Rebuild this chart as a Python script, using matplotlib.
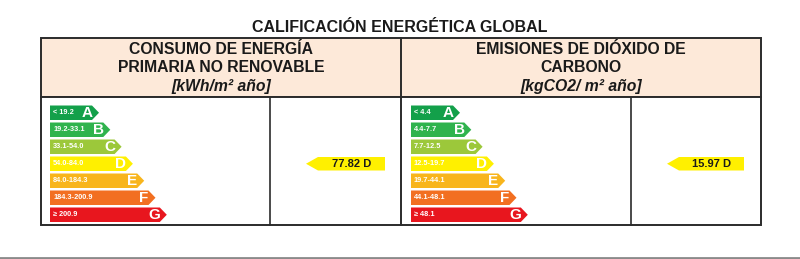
import matplotlib
matplotlib.use("Agg")
import matplotlib.pyplot as plt
from matplotlib.patches import Polygon, Rectangle

plt.rcParams['font.family'] = ['Liberation Sans', 'DejaVu Sans']

# data
title = "CALIFICACIÓN ENERGÉTICA GLOBAL"
classes = ['A', 'B', 'C', 'D', 'E', 'F', 'G']
class_colors = ['#13a04a', '#2fb34d', '#9cc83a', '#fff000', '#f8b51c', '#f26f21', '#e8161e']
energy_ranges = ['< 19.2', '19.2-33.1', '33.1-54.0', '54.0-84.0', '84.0-184.3', '184.3-200.9', '≥ 200.9']
co2_ranges = ['< 4.4', '4.4-7.7', '7.7-12.5', '12.5-19.7', '19.7-44.1', '44.1-48.1', '≥ 48.1']
energy_header = ["CONSUMO DE ENERGÍA", "PRIMARIA NO RENOVABLE", "[kWh/m² año]"]
co2_header = ["EMISIONES DE DIÓXIDO DE", "CARBONO", "[kgCO2/ m² año]"]
energy_value, energy_class = 77.82, 'D'
co2_value, co2_class = 15.97, 'D'

fig = plt.figure(figsize=(8, 2.59), dpi=100)
ax = fig.add_axes([0, 0, 1, 1])
ax.set_xlim(0, 800)
ax.set_ylim(259, 0)
ax.axis('off')

edge = '#2b2b2b'
# header and body boxes
ax.add_patch(Rectangle((41, 38), 720, 59, facecolor='#fde9d9', edgecolor=edge, lw=1.4))
ax.add_patch(Rectangle((41, 97), 720, 128, facecolor='white', edgecolor=edge, lw=1.4))
ax.plot([401, 401], [38, 225], color=edge, lw=1.4)
ax.plot([270, 270], [97, 225], color=edge, lw=1.2)
ax.plot([631, 631], [97, 225], color=edge, lw=1.2)
ax.plot([0, 800], [257.5, 257.5], color='#8a8a8a', lw=2)

ax.text(400, 27, title, ha='center', va='center', fontsize=11.5, fontweight='bold', color='#1a1a1a')


def header(cx, lines):
    ax.text(cx, 49, lines[0], ha='center', va='center', fontsize=11.3, fontweight='bold', color='#1a1a1a')
    ax.text(cx, 68, lines[1], ha='center', va='center', fontsize=11.3, fontweight='bold', color='#1a1a1a')
    ax.text(cx, 87, lines[2], ha='center', va='center', fontsize=11.3, fontweight='bold',
            style='italic', color='#1a1a1a')


def scale(x0, ranges, value, cls, arrow_tip, arrow_end):
    row_h, pitch, top = 14.5, 17, 105.5
    for i, (c, col, rng) in enumerate(zip(classes, class_colors, ranges)):
        y0 = top + i * pitch
        tip = x0 + 49 + i * 11.3
        body = tip - 7
        ax.add_patch(Polygon([(x0, y0), (body, y0), (tip, y0 + row_h / 2), (body, y0 + row_h), (x0, y0 + row_h)],
                             closed=True, facecolor=col, edgecolor='none'))
        ax.text(x0 + 3, y0 + row_h / 2, rng, ha='left', va='center', fontsize=5.3,
                fontweight='bold', color='white')
        ax.text(tip - 12, y0 + row_h / 2 + 0.5, c, ha='center', va='center', fontsize=11,
                fontweight='bold', color='white')
    k = classes.index(cls)
    y0 = top + k * pitch
    ax.add_patch(Polygon([(arrow_tip, y0 + row_h / 2), (arrow_tip + 12, y0 + 0.5), (arrow_end, y0 + 0.5),
                          (arrow_end, y0 + row_h - 0.5), (arrow_tip + 12, y0 + row_h - 0.5)],
                         closed=True, facecolor='#fff000', edgecolor='none'))
    ax.text((arrow_tip + 12 + arrow_end) / 2, y0 + row_h / 2, f"{value:.2f} {cls}", ha='center',
            va='center', fontsize=8, fontweight='bold', color='#1a1a1a')


header(221, energy_header)
header(581, co2_header)
scale(50, energy_ranges, energy_value, energy_class, 306, 385)
scale(411, co2_ranges, co2_value, co2_class, 667, 744)

fig.savefig('out.png', dpi=100, facecolor='white')
